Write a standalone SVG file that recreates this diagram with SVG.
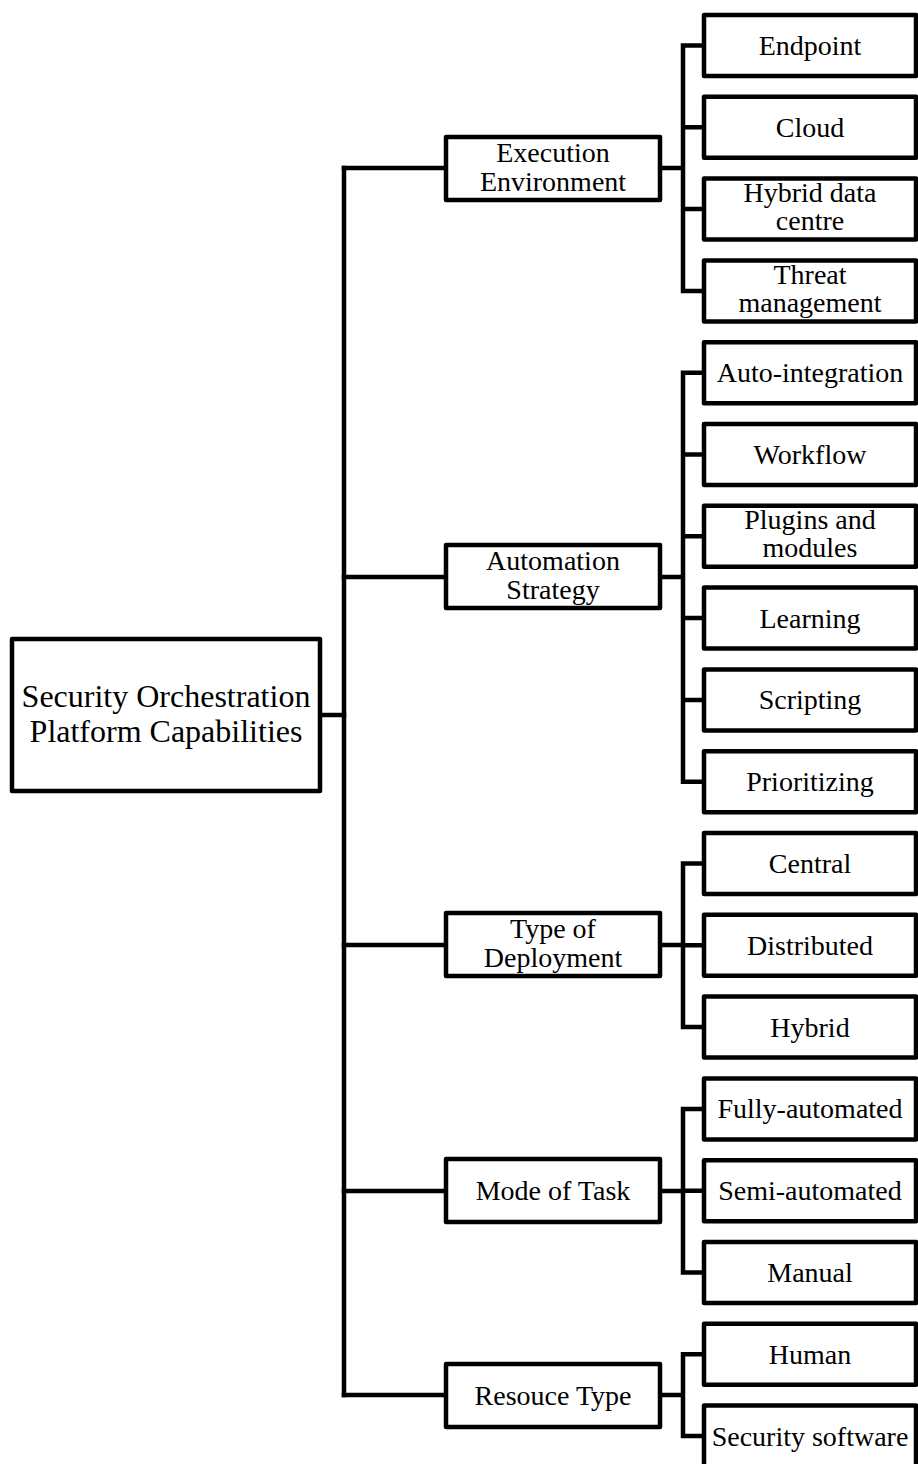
<svg xmlns="http://www.w3.org/2000/svg" width="918" height="1464" viewBox="0 0 918 1464">
  <style>
    .box { fill: #ffffff; stroke: #000000; stroke-width: 4.5; stroke-linejoin: round; }
    .wire { fill: none; stroke: #000000; stroke-width: 4.5; stroke-linejoin: round; stroke-linecap: square; }
    text { font-family: "Liberation Serif", "Times New Roman", serif; fill: #000000; text-anchor: middle; }
    .root { font-size: 32px; }
    .cat { font-size: 28px; }
    .leaf { font-size: 28px; }
  </style>
  <rect width="918" height="1464" fill="#ffffff"/>

  <!-- connectors -->
  <g id="connectors" class="wire">
    <!-- root to trunk -->
    <path d="M322 715 H344"/>
    <path d="M344 168 V1395"/>
    <path d="M344 168 H444 M344 577 H444 M344 945 H444 M344 1191 H444 M344 1395 H444"/>
    <!-- Execution Environment -->
    <path d="M662 168 H683 M683 45.5 V291 M683 45.5 H702 M683 127.3 H702 M683 209.1 H702 M683 291 H702"/>
    <!-- Automation Strategy -->
    <path d="M662 577 H683 M683 372.7 V781.7 M683 372.7 H702 M683 454.5 H702 M683 536.3 H702 M683 618.1 H702 M683 699.9 H702 M683 781.7 H702"/>
    <!-- Type of Deployment -->
    <path d="M662 945 H683 M683 863.5 V1027.1 M683 863.5 H702 M683 945.3 H702 M683 1027.1 H702"/>
    <!-- Mode of Task -->
    <path d="M662 1191 H683 M683 1108.9 V1272.5 M683 1108.9 H702 M683 1190.7 H702 M683 1272.5 H702"/>
    <!-- Resource Type -->
    <path d="M662 1395 H683 M683 1354.3 V1436.1 M683 1354.3 H702 M683 1436.1 H702"/>
  </g>

  <!-- root -->
  <g id="root">
    <rect class="box" x="12" y="639" width="308" height="152"/>
    <text class="root" x="166" y="707">Security Orchestration</text>
    <text class="root" x="166" y="742">Platform Capabilities</text>
  </g>

  <!-- categories -->
  <g id="cat-execution">
    <rect class="box" x="446" y="137" width="214" height="63"/>
    <text class="cat" x="553" y="162">Execution</text>
    <text class="cat" x="553" y="191">Environment</text>
  </g>
  <g id="cat-automation">
    <rect class="box" x="446" y="545" width="214" height="63"/>
    <text class="cat" x="553" y="570">Automation</text>
    <text class="cat" x="553" y="599">Strategy</text>
  </g>
  <g id="cat-deployment">
    <rect class="box" x="446" y="913" width="214" height="63"/>
    <text class="cat" x="553" y="938">Type of</text>
    <text class="cat" x="553" y="967">Deployment</text>
  </g>
  <g id="cat-mode">
    <rect class="box" x="446" y="1159" width="214" height="63"/>
    <text class="cat" x="553" y="1200">Mode of Task</text>
  </g>
  <g id="cat-resource">
    <rect class="box" x="446" y="1364" width="214" height="63"/>
    <text class="cat" x="553" y="1405">Resouce Type</text>
  </g>

  <!-- leaves: Execution Environment -->
  <g id="leaf-endpoint">
    <rect class="box" x="704" y="15" width="212" height="61"/>
    <text class="leaf" x="810" y="55">Endpoint</text>
  </g>
  <g id="leaf-cloud">
    <rect class="box" x="704" y="96.8" width="212" height="61"/>
    <text class="leaf" x="810" y="136.8">Cloud</text>
  </g>
  <g id="leaf-hybrid-dc">
    <rect class="box" x="704" y="178.6" width="212" height="61"/>
    <text class="leaf" x="810" y="202">Hybrid data</text>
    <text class="leaf" x="810" y="230">centre</text>
  </g>
  <g id="leaf-threat">
    <rect class="box" x="704" y="260.4" width="212" height="61"/>
    <text class="leaf" x="810" y="284">Threat</text>
    <text class="leaf" x="810" y="312">management</text>
  </g>

  <!-- leaves: Automation Strategy -->
  <g id="leaf-auto-integration">
    <rect class="box" x="704" y="342.2" width="212" height="61"/>
    <text class="leaf" x="810" y="382.2">Auto-integration</text>
  </g>
  <g id="leaf-workflow">
    <rect class="box" x="704" y="424" width="212" height="61"/>
    <text class="leaf" x="810" y="464">Workflow</text>
  </g>
  <g id="leaf-plugins">
    <rect class="box" x="704" y="505.8" width="212" height="61"/>
    <text class="leaf" x="810" y="529">Plugins and</text>
    <text class="leaf" x="810" y="557">modules</text>
  </g>
  <g id="leaf-learning">
    <rect class="box" x="704" y="587.6" width="212" height="61"/>
    <text class="leaf" x="810" y="627.6">Learning</text>
  </g>
  <g id="leaf-scripting">
    <rect class="box" x="704" y="669.4" width="212" height="61"/>
    <text class="leaf" x="810" y="709.4">Scripting</text>
  </g>
  <g id="leaf-prioritizing">
    <rect class="box" x="704" y="751.2" width="212" height="61"/>
    <text class="leaf" x="810" y="791.2">Prioritizing</text>
  </g>

  <!-- leaves: Type of Deployment -->
  <g id="leaf-central">
    <rect class="box" x="704" y="833" width="212" height="61"/>
    <text class="leaf" x="810" y="873">Central</text>
  </g>
  <g id="leaf-distributed">
    <rect class="box" x="704" y="914.8" width="212" height="61"/>
    <text class="leaf" x="810" y="954.8">Distributed</text>
  </g>
  <g id="leaf-hybrid">
    <rect class="box" x="704" y="996.6" width="212" height="61"/>
    <text class="leaf" x="810" y="1036.6">Hybrid</text>
  </g>

  <!-- leaves: Mode of Task -->
  <g id="leaf-fully">
    <rect class="box" x="704" y="1078.4" width="212" height="61"/>
    <text class="leaf" x="810" y="1118.4">Fully-automated</text>
  </g>
  <g id="leaf-semi">
    <rect class="box" x="704" y="1160.2" width="212" height="61"/>
    <text class="leaf" x="810" y="1200.2">Semi-automated</text>
  </g>
  <g id="leaf-manual">
    <rect class="box" x="704" y="1242" width="212" height="61"/>
    <text class="leaf" x="810" y="1282">Manual</text>
  </g>

  <!-- leaves: Resource Type -->
  <g id="leaf-human">
    <rect class="box" x="704" y="1323.8" width="212" height="61"/>
    <text class="leaf" x="810" y="1363.8">Human</text>
  </g>
  <g id="leaf-security-software">
    <rect class="box" x="704" y="1405.6" width="212" height="64"/>
    <text class="leaf" x="810" y="1445.6">Security software</text>
  </g>
</svg>
